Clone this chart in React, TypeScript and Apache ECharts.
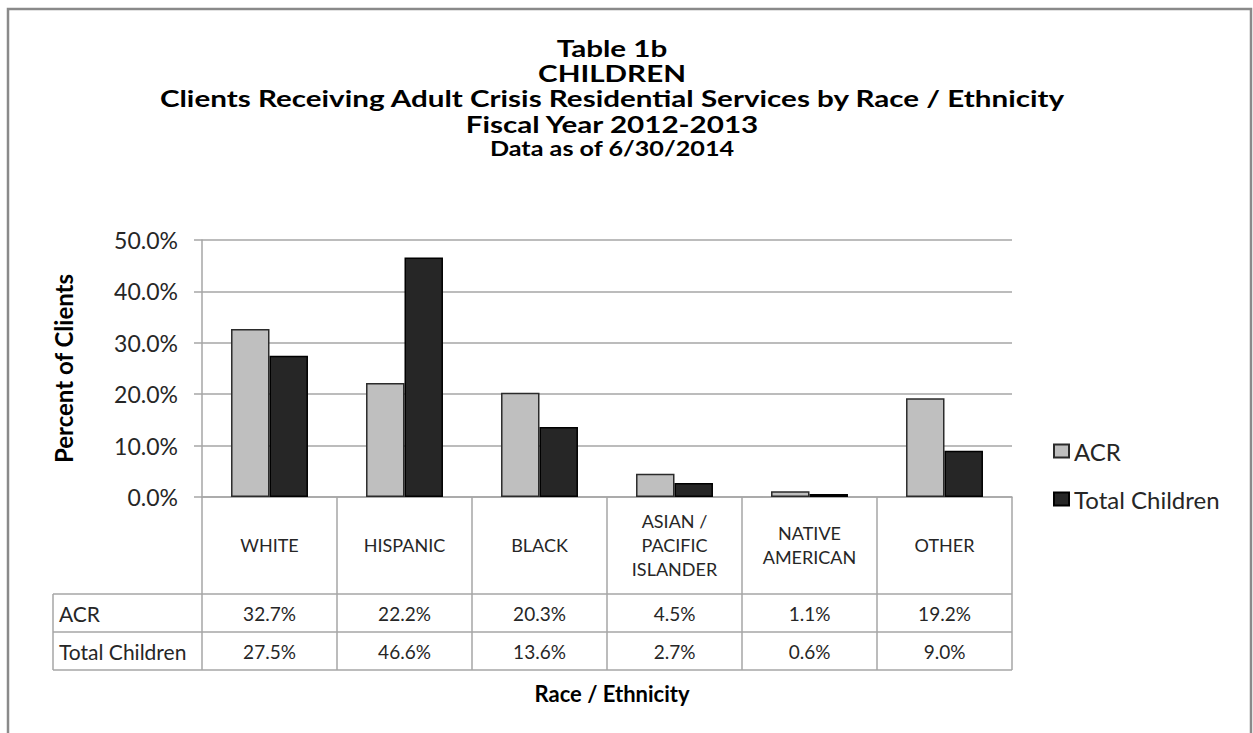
import React, { useEffect, useRef } from "react";
import * as echarts from "echarts";

const categories = ["WHITE", "HISPANIC", "BLACK", "ASIAN /\nPACIFIC\nISLANDER", "NATIVE\nAMERICAN", "OTHER"];
const seriesNames = ["ACR", "Total Children"];
const acrValues = [32.7, 22.2, 20.3, 4.5, 1.1, 19.2];
const totalChildrenValues = [27.5, 46.6, 13.6, 2.7, 0.6, 9.0];
const titleLines = [
  "Table 1b",
  "CHILDREN",
  "Clients Receiving Adult Crisis Residential Services by Race / Ethnicity",
  "Fiscal Year 2012-2013",
];
const subtitle = "Data as of 6/30/2014";
const yAxisName = "Percent of Clients";
const xAxisName = "Race / Ethnicity";

const FONT = "Lato, 'Open Sans', sans-serif";
const fmt = (v: number) => v.toFixed(1) + "%";

export default function App() {
  const ref = useRef<HTMLDivElement>(null);
  useEffect(() => {
    if (!ref.current) return;
    const chart = echarts.init(ref.current, undefined, { renderer: "svg" });
    const gridLeft = 202, gridRight = 1012, gridTop = 240, gridBottom = 497;
    const row1 = 594, row2 = 632, row3 = 670, tableLeft = 53;
    const gray = "#a6a6a6";
    const txt = "#262626";
    const titleCenters = [48, 73, 98.5, 124];
    const titleTexts = titleLines.map((t, i) => ({
      type: "text",
      x: 612,
      y: titleCenters[i],
      scaleX: 1.26,
      style: { text: t, fontFamily: FONT, fontWeight: "bold", fontSize: 23.5, lineHeight: 25, fill: "#000", align: "center", verticalAlign: "middle" },
    }));
    const option: any = {
      animation: false,
      backgroundColor: "#ffffff",
      textStyle: { fontFamily: FONT },
      legend: {
        orient: "vertical",
        left: 1048,
        top: 434,
        itemWidth: 15,
        itemHeight: 13,
        itemGap: 24,
        icon: "rect",
        data: seriesNames,
        textStyle: { fontFamily: FONT, fontSize: 24, color: txt },
      },
      grid: { left: gridLeft, top: gridTop, width: gridRight - gridLeft, height: gridBottom - gridTop, containLabel: false },
      xAxis: [
        {
          type: "category",
          data: categories,
          position: "bottom",
          axisLine: { show: true, lineStyle: { color: gray, width: 1.5 } },
          axisTick: { show: true, length: row3 - gridBottom, interval: 0, lineStyle: { color: gray, width: 1.5 } },
          axisLabel: { interval: 0, margin: 48, verticalAlign: "middle", fontFamily: FONT, fontSize: 18, lineHeight: 24, color: txt },
          splitLine: { show: false },
        },
        {
          type: "category",
          data: acrValues.map(fmt),
          position: "bottom",
          axisLine: { show: false },
          axisTick: { show: false },
          axisLabel: { interval: 0, margin: (row1 + row2) / 2 - gridBottom, verticalAlign: "middle", fontFamily: FONT, fontSize: 19, color: txt },
        },
        {
          type: "category",
          data: totalChildrenValues.map(fmt),
          position: "bottom",
          axisLine: { show: false },
          axisTick: { show: false },
          axisLabel: { interval: 0, margin: (row2 + row3) / 2 - gridBottom, verticalAlign: "middle", fontFamily: FONT, fontSize: 19, color: txt },
        },
      ],
      yAxis: {
        type: "value",
        min: 0,
        max: 50,
        interval: 10,
        name: yAxisName,
        nameLocation: "middle",
        nameRotate: 90,
        nameGap: 127,
        nameTextStyle: { fontFamily: FONT, fontWeight: "bold", fontSize: 24, color: "#000" },
        axisLine: { show: true, lineStyle: { color: gray, width: 1.5 } },
        axisTick: { show: true, length: 8, lineStyle: { color: gray, width: 1.5 } },
        axisLabel: { formatter: (v: number) => fmt(v), margin: 24, fontFamily: FONT, fontSize: 23, color: txt },
        splitLine: { show: true, lineStyle: { color: gray, width: 1.5 } },
      },
      series: [
        {
          name: seriesNames[0],
          type: "bar",
          xAxisIndex: 0,
          data: acrValues,
          barGap: "0%",
          barCategoryGap: "43%",
          itemStyle: { color: "#bfbfbf", borderColor: "#2b2b2b", borderWidth: 1.5 },
        },
        {
          name: seriesNames[1],
          type: "bar",
          xAxisIndex: 0,
          data: totalChildrenValues,
          barGap: "0%",
          barCategoryGap: "43%",
          itemStyle: { color: "#262626", borderColor: "#000000", borderWidth: 1.5 },
        },
      ],
      graphic: [
        { type: "rect", shape: { x: 8, y: 9, width: 1243, height: 780 }, style: { fill: "none", stroke: "#8a8a8a", lineWidth: 2.5 }, silent: true },
        ...titleTexts,
        { type: "text", x: 612, y: 149, scaleX: 1.26, style: { text: subtitle, fontFamily: FONT, fontWeight: "bold", fontSize: 20, lineHeight: 20, fill: "#000", align: "center", verticalAlign: "middle" } },
        { type: "line", shape: { x1: tableLeft, y1: row1, x2: gridRight, y2: row1 }, style: { stroke: gray, lineWidth: 1.5 } },
        { type: "line", shape: { x1: tableLeft, y1: row2, x2: gridRight, y2: row2 }, style: { stroke: gray, lineWidth: 1.5 } },
        { type: "line", shape: { x1: tableLeft, y1: row3, x2: gridRight, y2: row3 }, style: { stroke: gray, lineWidth: 1.5 } },
        { type: "line", shape: { x1: tableLeft, y1: row1, x2: tableLeft, y2: row3 }, style: { stroke: gray, lineWidth: 1.5 } },
        { type: "text", x: tableLeft + 6, y: (row1 + row2) / 2, style: { text: seriesNames[0], fontFamily: FONT, fontSize: 21, fill: txt, verticalAlign: "middle" } },
        { type: "text", x: tableLeft + 6, y: (row2 + row3) / 2, style: { text: seriesNames[1], fontFamily: FONT, fontSize: 21, fill: txt, verticalAlign: "middle" } },
        { type: "text", x: 612, y: 693, style: { text: xAxisName, fontFamily: FONT, fontWeight: "bold", fontSize: 22, fill: "#000", align: "center", verticalAlign: "middle" } },
      ],
    };
    chart.setOption(option);
    return () => chart.dispose();
  }, []);
  return <div ref={ref} style={{ position: "fixed", left: 0, top: 0, width: 1253, height: 733 }} />;
}
